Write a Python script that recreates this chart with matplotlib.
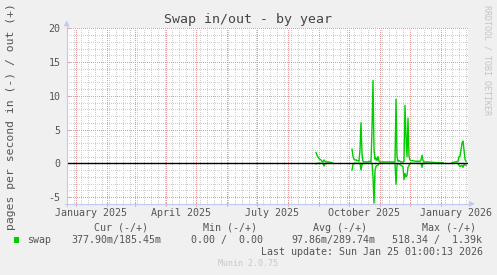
"""
Munin style "Swap in/out - by year" chart, redrawn with matplotlib.
"""

import matplotlib

matplotlib.use("Agg")
import matplotlib.pyplot as plt
import numpy as np
import pandas as pd
from matplotlib.patches import Polygon, Rectangle
from matplotlib.lines import Line2D

W, H, DPI = 497, 275, 100
START = pd.Timestamp("2025-01-01")

# --- data (days since 2025-01-01, pages per second) ---------------------
out_days = [240, 241, 242, 243, 244, 245, 246, 247, 248, 249, 250, 252, 254, 256, np.nan,
            276, 277, 278, 279, 280, 281, 282, 283, 284, 285, 286, 287, 288, 290, 292, 294,
            295, 296, 297, 298, 299, 300, 301, 302, 303, 304, 308, 312, 316, 319, 320, 321,
            322, 323, 324, 325, 326, 327, 328, 329, 330, 331, 332, 333, 334, 335, 336, 340,
            344, 345, 346, 347, 348, 352, 356, 360, 364, 367, np.nan,
            376, 379, 382, 383, 384, 385, 386, 387, 388, 389, 390]
out_vals = [1.6, 1.2, 0.9, 0.7, 0.6, 0.5, 0.3, 0.2, 0.5, 0.3, 0.2, 0.2, 0.15, 0.1, np.nan,
            2.1, 1.0, 0.6, 0.5, 0.5, 0.4, 0.4, 0.3, 2.0, 6.0, 1.5, 0.3, 0.2, 0.2, 0.2, 0.3,
            0.2, 5.0, 12.3, 2.0, 0.6, 0.8, 0.4, 1.0, 0.3, 0.2, 0.2, 0.2, 0.2, 0.2, 9.5, 1.0,
            0.3, 0.4, 0.3, 0.2, 0.2, 0.2, 0.3, 8.6, 4.0, 1.0, 6.7, 1.0, 0.5, 0.4, 0.4, 0.3,
            0.3, 0.5, 1.2, 0.4, 0.2, 0.2, 0.15, 0.1, 0.1, 0.1, np.nan,
            0.1, 0.2, 0.3, 1.0, 1.0, 2.0, 3.0, 3.3, 2.0, 0.6, 0.3]

in_days = [240, 241, 247, 248, 249, 250, 256, np.nan,
           276, 277, 278, 284, 285, 286, 287, 296, 297, 298, 299, 300, 301, 302, 303,
           319, 320, 321, 322, 327, 328, 329, 330, 331, 332, 333, 334, 345, 346, 347, 367, np.nan,
           376, 382, 383, 384, 386, 387, 388, 390]
in_vals = [0.1, 0.0, 0.0, 0.4, 0.1, 0.0, 0.0, np.nan,
           1.0, 0.2, 0.0, 0.0, 1.0, 0.2, 0.0, 0.0, 2.0, 5.9, 1.0, 0.5, 0.3, 0.3, 0.0,
           0.0, 3.1, 0.3, 0.0, 0.5, 2.4, 1.5, 2.0, 1.8, 0.6, 0.3, 0.0, 0.0, 0.6, 0.0, 0.0, np.nan,
           0.0, 0.0, 0.3, 0.5, 0.3, 0.6, 0.2, 0.3]

x_labels = ["January 2025", "April 2025", "July 2025", "October 2025", "January 2026"]
label_months = ["2025-01-16", "2025-04-16", "2025-07-16", "2025-10-16", "2026-01-16"]
y_ticks = [-5, 0, 5, 10, 15, 20]

legend_heads = ["Cur (-/+)", "Min (-/+)", "Avg (-/+)", "Max (-/+)"]
legend_vals = ["377.90m/185.45m", "0.00 /  0.00", "97.86m/289.74m", "518.34 /  1.39k"]

# --- styling -------------------------------------------------------------
MONO = "DejaVu Sans Mono"
TXT = "#555555"
GREEN = "#00cc00"
MAJOR = "#e89a9a"
MINOR = "#cfcfcf"
AXIS = "#c4c8f4"


def fx(px):
    return px / W


def fy(py):
    return 1 - py / H


def days_of(dates):
    return [(pd.Timestamp(d) - START).days for d in dates]


x0, x1 = -9.3, 392.0
ax_l, ax_r, ax_t, ax_b = 66.7, 468.0, 28.3, 203.8

fig = plt.figure(figsize=(W / DPI, H / DPI), dpi=DPI, facecolor="#f0f0f0")
ax = fig.add_axes([fx(ax_l), fy(ax_b), fx(ax_r - ax_l), (ax_b - ax_t) / H])
ax.set_facecolor("white")
ax.set_xlim(x0, x1)
ax.set_ylim(-6, 20)
for s in ax.spines.values():
    s.set_visible(False)

months = days_of(pd.date_range("2025-01-01", "2026-01-01", freq="MS"))
weeks = days_of(pd.date_range("2024-12-30", "2026-01-26", freq="7D"))
ax.set_xticks(months)
ax.set_xticks(weeks, minor=True)
ax.set_yticks(y_ticks)
ax.set_yticks(np.arange(-6, 21, 1), minor=True)
ax.set_yticklabels([str(v) for v in y_ticks], family=MONO, fontsize=7.2, color=TXT)
ax.tick_params(axis="x", which="major", length=3, color=MAJOR, direction="inout", labelbottom=False)
ax.tick_params(axis="x", which="minor", length=2, color=MINOR, direction="inout")
ax.tick_params(axis="y", which="major", length=2, color=MAJOR, direction="in", pad=4.5)
ax.tick_params(axis="y", which="minor", length=0)

# rrdtool style one-pixel dotted grid
dots = (0, (1, 1.6))
ax.grid(which="minor", color=MINOR, linewidth=0.72, linestyle=dots, antialiased=False)
ax.grid(which="major", color=MAJOR, linewidth=0.72, linestyle=dots, antialiased=False)
ax.set_axisbelow(True)

ax.plot(out_days, out_vals, color=GREEN, linewidth=1.0, zorder=3)
ax.plot(in_days, -np.array(in_vals), color=GREEN, linewidth=1.0, zorder=3)
ax.axhline(0, color="black", linewidth=1.0, zorder=4)

for lab, d in zip(x_labels, days_of(label_months)):
    ax.text(d, -(212.7 - ax_b) / (ax_b - ax_t), lab, transform=ax.get_xaxis_transform(),
            ha="center", va="center", family=MONO, fontsize=7.2, color=TXT)

# axis lines with arrow heads
fig.add_artist(Line2D([fx(ax_l), fx(ax_l)], [fy(ax_b + 2), fy(ax_t - 3)], color=AXIS, lw=0.8))
fig.add_artist(Line2D([fx(ax_l - 2), fx(ax_r + 3)], [fy(ax_b), fy(ax_b)], color=AXIS, lw=0.8))
fig.add_artist(Polygon([[fx(ax_l - 3), fy(ax_t - 2)], [fx(ax_l + 3), fy(ax_t - 2)],
                        [fx(ax_l), fy(ax_t - 8)]], closed=True, color=AXIS, lw=0))
fig.add_artist(Polygon([[fx(ax_r + 1), fy(ax_b - 3)], [fx(ax_r + 1), fy(ax_b + 3)],
                        [fx(ax_r + 7), fy(ax_b)]], closed=True, color=AXIS, lw=0))

# titles and labels
fig.text(fx(248.5), fy(19), "Swap in/out - by year", ha="center", va="center",
         family=MONO, fontsize=9.5, color="#444444")
fig.text(fx(11), fy(116.5), "pages per second in (-) / out (+)", rotation=90,
         ha="center", va="center", family=MONO, fontsize=8.2, color=TXT)
fig.text(fx(487), fy(5), "RRDTOOL / TOBI OETIKER", rotation=270, ha="center", va="top",
         family=MONO, fontsize=6, color="#c4c4c4")

# legend block
for head, cx in zip(legend_heads, [120.5, 230, 340, 449.3]):
    fig.text(fx(cx), fy(227.7), head, ha="center", va="center", family=MONO, fontsize=7.2, color=TXT)
fig.add_artist(Rectangle((fx(14), fy(242.7)), fx(5.3), 5.3 / H, color=GREEN, lw=0))
fig.text(fx(26.7), fy(240), "swap", ha="left", va="center", family=MONO, fontsize=7.2, color=TXT)
for val, lx in zip(legend_vals, [71.7, 190.7, 291, 391.7]):
    fig.text(fx(lx), fy(240), val, ha="left", va="center", family=MONO, fontsize=7.2, color=TXT)
fig.text(fx(482.7), fy(251.7), "Last update: Sun Jan 25 01:00:13 2026", ha="right", va="center",
         family=MONO, fontsize=7.2, color=TXT)
fig.text(fx(248), fy(264), "Munin 2.0.75", ha="center", va="center", family=MONO,
         fontsize=6, color="#c8c8c8")

fig.savefig("out.png", dpi=DPI, facecolor=fig.get_facecolor())
